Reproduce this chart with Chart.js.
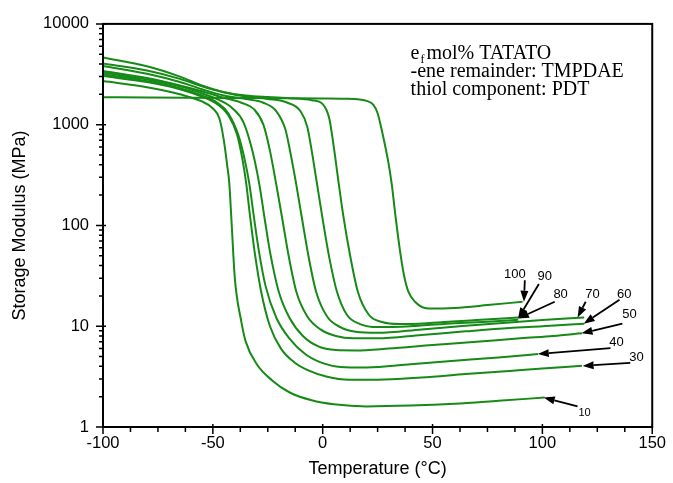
<!DOCTYPE html>
<html>
<head>
<meta charset="utf-8">
<script src="https://cdn.jsdelivr.net/npm/chart.js@4.4.0/dist/chart.umd.min.js"></script>
<style>
  html, body { margin: 0; padding: 0; background: #fff; }
  #wrap { width: 673px; height: 483px; }
</style>
</head>
<body>
<div id="wrap"><canvas id="dmaChart" width="673" height="483"></canvas></div>
<script>
// Storage modulus (MPa) vs temperature (°C), one curve per TATATO mol%
const t10 = [-100, -80, -65, -55, -50, -47, -45, -43.5, -42.5, -41.5, -40, -37, -35, -30, -23, -15, -5, 5, 20, 40, 60, 80, 101];
const e10 = [2710, 2350, 2000, 1700, 1450, 1150, 700, 400, 260, 110, 30, 11, 7, 4.2, 2.9, 2.2, 1.84, 1.68, 1.6, 1.63, 1.7, 1.82, 1.96];

const t30 = [-100, -80, -65, -55, -48, -43, -39, -36.5, -34.8, -33, -31, -28, -24, -19, -13, -6, 2, 12, 25, 45, 65, 85, 100, 118];
const e30 = [3040, 2650, 2250, 1900, 1600, 1250, 800, 450, 260, 120, 55, 22, 10, 6, 4.4, 3.6, 3.15, 2.95, 2.95, 3.1, 3.35, 3.6, 3.8, 4.05];

const t40 = [-100, -80, -65, -55, -48, -43, -38.5, -35.5, -33.4, -31.5, -29, -26, -21, -15, -8, 0, 8, 20, 40, 60, 80, 98];
const e40 = [3160, 2700, 2300, 1950, 1650, 1300, 800, 450, 260, 130, 55, 25, 12, 7.5, 5.3, 4.3, 3.95, 3.9, 4.2, 4.55, 4.9, 5.3];

const t50 = [-100, -80, -65, -55, -47, -41, -36, -32, -28.9, -26.5, -24, -20, -15, -9, -2, 6, 15, 30, 50, 70, 90, 105, 118];
const e50 = [3290, 2800, 2400, 2050, 1750, 1450, 1050, 550, 260, 120, 55, 22, 12, 8, 6.3, 5.8, 5.75, 6.0, 6.5, 7.0, 7.6, 8.0, 8.5];

const t60 = [-100, -80, -65, -55, -45, -37, -31, -27, -24, -21.2, -18.5, -15.5, -12, -7, -1, 6, 14, 25, 45, 65, 85, 100, 119];
const e60 = [3410, 2900, 2450, 2150, 1850, 1650, 1400, 1000, 550, 260, 120, 50, 22, 12.5, 9.3, 8.0, 7.6, 7.6, 8.2, 8.9, 9.6, 10.0, 10.6];

const t70 = [-100, -80, -65, -55, -45, -35, -27, -21, -17, -14.5, -12.1, -9.5, -6.5, -3, 2, 8, 15, 25, 45, 65, 85, 100, 119];
const e70 = [3830, 3200, 2650, 2250, 1950, 1800, 1650, 1350, 900, 500, 260, 120, 50, 22, 12.5, 9.8, 8.8, 8.6, 9.3, 10.1, 10.9, 11.5, 12.2];

const t80 = [-100, -80, -65, -55, -45, -35, -25, -16, -10, -7, -4.8, -2.6, 0, 3, 6.5, 11, 17, 25, 40, 60, 75, 89];
const e80 = [4640, 3800, 3000, 2450, 2100, 1900, 1800, 1650, 1350, 950, 520, 260, 115, 48, 22, 13, 10.5, 9.8, 10.0, 10.7, 11.1, 11.6];

const t90 = [-100, -80, -65, -55, -45, -35, -25, -15, -5, 0, 3, 5.3, 7.3, 9.5, 12.5, 16, 21, 27, 35, 50, 70, 89];
const e90 = [4050, 3450, 2850, 2400, 2100, 1950, 1880, 1830, 1750, 1600, 1150, 550, 260, 120, 50, 22, 13, 11, 10.5, 10.8, 11.5, 12.2];

const t100 = [-100, -80, -60, -40, -20, 0, 10, 16, 20, 23, 25, 27, 30, 31.5, 33, 35, 37, 39, 42, 48, 60, 75, 91];
const e100 = [1870, 1860, 1850, 1840, 1830, 1820, 1810, 1790, 1720, 1580, 1300, 860, 410, 250, 131, 60, 32, 22, 17.5, 15, 15.2, 16.2, 17.5];

const curveNames = ['10', '30', '40', '50', '60', '70', '80', '90', '100'];
const curveTemps = [t10, t30, t40, t50, t60, t70, t80, t90, t100];
const curveModulus = [e10, e30, e40, e50, e60, e70, e80, e90, e100];

const tempTicks = [-100, -50, 0, 50, 100, 150];
const modulusTicks = [1, 10, 100, 1000, 10000];

// arrow callouts: label, tip (T, E), tail (T, E), text (T, E)
const calloutLabels = ['100', '90', '80', '70', '60', '50', '40', '30', '10'];
const calloutTip = [[91.6, 17.5], [88.9, 11.9], [88.9, 11.9], [116, 12.2], [118.8, 10.6], [117.8, 8.5], [97.9, 5.3], [118.3, 4.04], [100.6, 1.96]];
const calloutTail = [[92, 28.6], [98.4, 26.2], [105.6, 17.5], [119.7, 17.5], [135.1, 18.3], [136.4, 10.6], [131, 6.06], [140, 4.32], [116, 1.6]];
const calloutText = [[87.5, 32.8], [101.1, 31.3], [108.3, 20.5], [122.8, 20.5], [137.3, 20.9], [139.6, 13.0], [133.7, 6.93], [142.8, 4.95], [119.2, 1.37]];

const GREEN = '#168a16';
const SANS = '"Liberation Sans", Arial, sans-serif';
const SERIF = '"Liberation Serif", "Times New Roman", serif';

const frameTicks = {
    id: 'frameTicks',
    afterDraw(chart) {
        const {ctx, chartArea: a, scales: {x, y}} = chart;
        ctx.save();
        ctx.strokeStyle = '#000';
        ctx.lineWidth = 2;
        ctx.strokeRect(a.left, a.top, a.right - a.left, a.bottom - a.top);

        ctx.lineWidth = 1.5;
        ctx.beginPath();
        const minorStep = 12.5;
        for (let v = -100; v <= 150; v += minorStep) {
            const px = x.getPixelForValue(v);
            const major = v % 50 === 0;
            ctx.moveTo(px, a.bottom + (major ? 7 : 5));
            ctx.lineTo(px, major ? a.bottom - 3 : a.bottom);
        }
        for (let d = 1; d <= 10000; d *= 10) {
            for (let m = 1; m < 10; m++) {
                const v = d * m;
                if (v > 10000) break;
                const py = y.getPixelForValue(v);
                const major = m === 1;
                ctx.moveTo(a.left - (major ? 7 : 4), py);
                ctx.lineTo(major ? a.left + 3 : a.left, py);
            }
        }
        ctx.stroke();
        ctx.restore();
    }
};

const callouts = {
    id: 'callouts',
    afterDatasetsDraw(chart) {
        const {ctx, scales: {x, y}} = chart;
        ctx.save();
        ctx.strokeStyle = '#000';
        ctx.fillStyle = '#000';
        ctx.lineWidth = 1.8;
        calloutLabels.forEach((lab, i) => {
            const tx = x.getPixelForValue(calloutTip[i][0]);
            const ty = y.getPixelForValue(calloutTip[i][1]);
            const sx = x.getPixelForValue(calloutTail[i][0]);
            const sy = y.getPixelForValue(calloutTail[i][1]);
            const ang = Math.atan2(ty - sy, tx - sx);
            const head = 11, half = 4;
            const bx = tx - head * Math.cos(ang);
            const by = ty - head * Math.sin(ang);
            ctx.beginPath();
            ctx.moveTo(sx, sy);
            ctx.lineTo(bx, by);
            ctx.stroke();
            ctx.beginPath();
            ctx.moveTo(tx, ty);
            ctx.lineTo(bx + half * Math.sin(ang), by - half * Math.cos(ang));
            ctx.lineTo(bx - half * Math.sin(ang), by + half * Math.cos(ang));
            ctx.closePath();
            ctx.fill();

            ctx.font = (lab === '10' ? '11px ' : '13px ') + SANS;
            ctx.textAlign = 'center';
            ctx.textBaseline = 'middle';
            ctx.fillText(lab, x.getPixelForValue(calloutText[i][0]), y.getPixelForValue(calloutText[i][1]));
        });
        ctx.restore();
    }
};

const noteBox = {
    id: 'noteBox',
    afterDraw(chart) {
        const {ctx, chartArea: a, scales: {x}} = chart;
        const left = x.getPixelForValue(40);
        ctx.save();
        ctx.fillStyle = '#000';
        ctx.textAlign = 'left';
        ctx.textBaseline = 'alphabetic';
        ctx.font = '20px ' + SERIF;
        ctx.fillText('e', left, a.top + 35);
        let w = ctx.measureText('e').width;
        ctx.font = '12px ' + SERIF;
        ctx.fillText('f', left + w + 1, a.top + 39);
        w += ctx.measureText('f').width + 3;
        ctx.font = '20px ' + SERIF;
        ctx.fillText('mol% TATATO', left + w, a.top + 35);
        ctx.fillText('-ene remainder: TMPDAE', left, a.top + 53);
        ctx.fillText('thiol component: PDT', left, a.top + 71);
        ctx.restore();
    }
};

const ctx = document.getElementById('dmaChart').getContext('2d');
const dmaChart = new Chart(ctx, {
    type: 'line',
    data: {
        datasets: curveNames.map((name, i) => ({
            label: name + ' mol%',
            data: curveTemps[i].map((t, j) => ({x: t, y: curveModulus[i][j]})),
            borderColor: GREEN,
            borderWidth: 2,
            pointRadius: 0,
            fill: false,
            cubicInterpolationMode: 'monotone'
        }))
    },
    options: {
        responsive: false,
        devicePixelRatio: 1,
        animation: false,
        layout: {padding: {top: 18, right: 18, left: 0, bottom: 0}},
        plugins: {
            legend: {display: false},
            tooltip: {enabled: false}
        },
        scales: {
            x: {
                type: 'linear',
                min: -100,
                max: 150,
                afterBuildTicks: s => { s.ticks = tempTicks.map(v => ({value: v})); },
                afterFit: s => { s.height = 56; },
                grid: {display: false, drawTicks: false},
                border: {display: false},
                ticks: {color: '#000', padding: 7, maxRotation: 0, font: {family: SANS, size: 16.5}},
                title: {display: true, text: 'Temperature (°C)', color: '#000',
                        font: {family: SANS, size: 18}, padding: {top: 0, bottom: 3}}
            },
            y: {
                type: 'logarithmic',
                min: 1,
                max: 10000,
                afterBuildTicks: s => { s.ticks = modulusTicks.map(v => ({value: v})); },
                afterFit: s => { s.width = 103; },
                grid: {display: false, drawTicks: false},
                border: {display: false},
                ticks: {color: '#000', padding: 14, font: {family: SANS, size: 16.5},
                        callback: v => String(v)},
                title: {display: true, text: 'Storage Modulus (MPa)', color: '#000',
                        font: {family: SANS, size: 18}, padding: {top: 9, bottom: 0}}
            }
        }
    },
    plugins: [frameTicks, callouts, noteBox]
});
</script>
</body>
</html>
